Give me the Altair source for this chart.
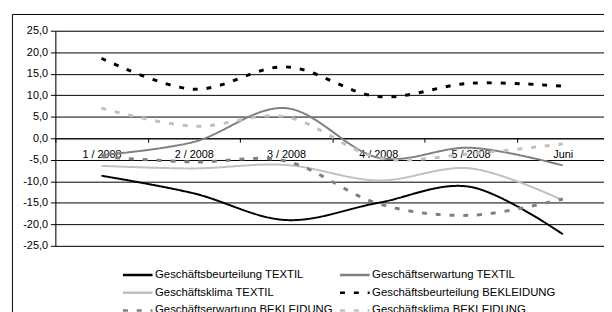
import altair as alt
import pandas as pd

months = ["1 / 2008", "2 / 2008", "3 / 2008", "4 / 2008", "5 / 2008", "Juni"]
series = [
    "Geschäftsbeurteilung TEXTIL",
    "Geschäftsklima TEXTIL",
    "Geschäftserwartung BEKLEIDUNG",
    "Geschäftserwartung TEXTIL",
    "Geschäftsbeurteilung BEKLEIDUNG",
    "Geschäftsklima BEKLEIDUNG",
]
beurteilung_textil = [-8.7, -12.8, -19.0, -15.0, -11.3, -22.3]
klima_textil = [-6.4, -7.0, -6.2, -9.8, -7.0, -14.4]
erwartung_bekleidung = [-4.3, -5.5, -5.3, -15.2, -17.9, -14.1]
erwartung_textil = [-3.9, -0.85, 7.0, -4.5, -2.2, -6.3]
beurteilung_bekleidung = [18.6, 11.4, 16.6, 9.7, 12.8, 12.1]
klima_bekleidung = [7.0, 2.8, 5.0, -4.5, -3.6, -1.3]

colors = ["#000000", "#c0c0c0", "#808080", "#808080", "#000000", "#c0c0c0"]
dashes = [[1, 0], [1, 0], [5, 9], [1, 0], [5, 9], [5, 9]]
solid_series = ["Geschäftsbeurteilung TEXTIL", "Geschäftsklima TEXTIL", "Geschäftserwartung TEXTIL"]

values = [beurteilung_textil, klima_textil, erwartung_bekleidung,
          erwartung_textil, beurteilung_bekleidung, klima_bekleidung]
rows = []
for s, vals in zip(series, values):
    for m, v in zip(months, vals):
        rows.append({"Serie": s, "Monat": m, "Wert": v, "solid": s in solid_series})
df = pd.DataFrame(rows)

FONT = "Liberation Sans"

x_enc = alt.X("Monat:N", sort=months,
              scale=alt.Scale(type="band", domain=months, range=[0, 561],
                              paddingInner=0, paddingOuter=0),
              axis=alt.Axis(title=None, offset=-109, tickBand="extent",
                            domainColor="black", tickColor="black", tickSize=4,
                            labelAngle=0, labelPadding=6, labelFontSize=11,
                            labelColor="black", labelFont=FONT, grid=False))
y_enc = alt.Y("Wert:Q",
              scale=alt.Scale(domain=[-25, 25], nice=False, zero=False),
              axis=alt.Axis(title=None, values=list(range(-25, 26, 5)),
                            labelExpr="(datum.value < 0 ? '-' : '') + replace(format(abs(datum.value), '.1f'), '.', ',')",
                            grid=True, gridColor="black", gridWidth=1,
                            domainColor="black", tickColor="black", tickSize=5,
                            labelPadding=3, labelFontSize=11, labelColor="black",
                            labelFont=FONT))
color_enc = alt.Color("Serie:N", scale=alt.Scale(domain=series, range=colors),
                      legend=alt.Legend(title=None, orient="none", legendX=77, legendY=241,
                                        columns=2, columnPadding=1, rowPadding=6,
                                        symbolType="M-3,0H3", symbolSize=100,
                                        symbolStrokeWidth=2.5, labelOffset=11,
                                        labelFontSize=11.5, labelFont=FONT,
                                        labelColor="black", labelLimit=400, padding=0))
dash_enc = alt.StrokeDash("Serie:N", scale=alt.Scale(domain=series, range=dashes), legend=None)

solid = alt.Chart(df).transform_filter("datum.solid").mark_line(
    interpolate="cardinal", strokeWidth=2).encode(
    x=x_enc, y=y_enc, color=color_enc, strokeDash=dash_enc, detail="Serie:N")
dashed = alt.Chart(df).transform_filter("!datum.solid").mark_line(
    interpolate="cardinal", strokeWidth=3).encode(
    x=x_enc, y=y_enc, color=color_enc, strokeDash=dash_enc, detail="Serie:N")

frame = alt.Chart(pd.DataFrame({"f": [0]})).mark_rect(
    filled=False, stroke="black", strokeWidth=1).encode(
    x=alt.value(-43.5), x2=alt.value(700), y=alt.value(-16.5), y2=alt.value(400))

chart = alt.layer(frame, solid, dashed).properties(
    width=556, height=218,
    autosize=alt.AutoSizeParams(type="none"),
    padding={"left": 48, "top": 21, "right": 0, "bottom": 65},
).configure_view(stroke=None).configure(background="white")

chart.save("out.html", embed_options={"renderer": "svg", "actions": False})
